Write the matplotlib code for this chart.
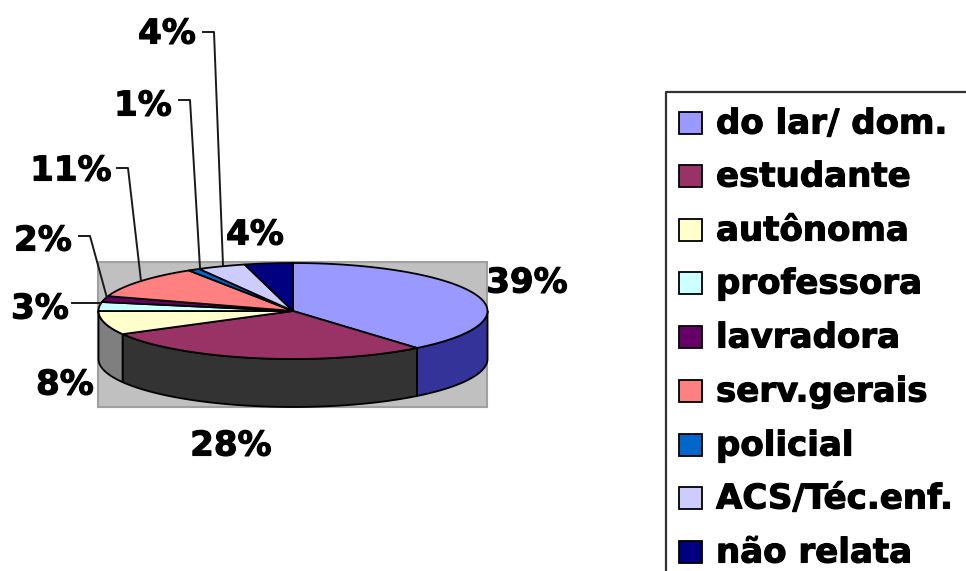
import numpy as np
import matplotlib
matplotlib.use('Agg')
import matplotlib.pyplot as plt
import matplotlib.patheffects as pe
from matplotlib.patches import Polygon, Rectangle

labels = ['do lar/ dom.', 'estudante', 'autônoma', 'professora', 'lavradora',
          'serv.gerais', 'policial', 'ACS/Téc.enf.', 'não relata']
values = [39, 28, 8, 3, 2, 11, 1, 4, 4]
colors = ['#9999FF', '#993366', '#FFFFCC', '#CCFFFF', '#660066',
          '#FF8080', '#0066CC', '#CCCCFF', '#000080']
side_colors = ['#333399', '#333333', '#7F7F7F', '#668080', '#330033',
               '#804040', '#003366', '#666680', '#000040']

# posicao dos rotulos em pixels (centro do texto)
pct_pos = [(527, 283), (231, 446), (65, 385), (40, 309), (43, 241),
           (71, 171), (143, 106), (167, 34), (255, 235)]
# linhas de chamada
leaders = [[(72, 303), (100, 303)],
           [(79, 236), (90, 236), (107, 298)],
           [(117, 168), (128, 168), (141, 281)],
           [(179, 100), (190, 100), (200, 268)],
           [(203, 32), (214, 32), (223, 265)]]

cx, cy, rx, ry, depth = 293, 311, 194.5, 48, 48

fig = plt.figure(figsize=(9.66, 5.71), dpi=100)
ax = fig.add_axes([0, 0, 1, 1])
ax.set_xlim(0, 966)
ax.set_ylim(571, 0)
ax.axis('off')

# fundo cinza
ax.add_patch(Rectangle((98, 262), 389, 145, facecolor='#C0C0C0',
                       edgecolor='#A0A0A0', linewidth=1.5))


def arc(t0, t1, dy=0):
    t = np.radians(np.linspace(t0, t1, 60))
    return np.column_stack([cx + rx * np.sin(t), cy + dy - ry * np.cos(t)])


edges = np.cumsum([0] + values) * 3.6

# faces laterais (so a parte da frente aparece)
for i in range(len(values)):
    t0, t1 = max(edges[i], 90), min(edges[i + 1], 270)
    if t1 <= t0:
        continue
    pts = np.vstack([arc(t0, t1), arc(t0, t1, depth)[::-1]])
    ax.add_patch(Polygon(pts, closed=True, facecolor=side_colors[i],
                         edgecolor='black', linewidth=1.3))

# topo da pizza
for i in range(len(values)):
    pts = np.vstack([[(cx, cy)], arc(edges[i], edges[i + 1])])
    ax.add_patch(Polygon(pts, closed=True, facecolor=colors[i],
                         edgecolor='black', linewidth=1.3))

for pts in leaders:
    xs, ys = zip(*pts)
    ax.plot(xs, ys, color='#1a1a1a', linewidth=1.4)

font = dict(family='DejaVu Sans', fontweight='bold', fontsize=24.5, color='black',
            path_effects=[pe.withStroke(linewidth=0.8, foreground='black')])
for v, (x, y) in zip(values, pct_pos):
    ax.text(x, y, f'{v}%', ha='center', va='center', **font)

# legenda (a caixa sai da imagem a direita e embaixo)
ax.plot([966, 666, 666], [92, 92, 571], color='#333333', linewidth=1.6)
leg_y = [123, 176, 230, 283, 337, 391, 445, 498, 552]
for lab, col, y in zip(labels, colors, leg_y):
    ax.add_patch(Rectangle((679, y - 11), 23, 22, facecolor=col,
                           edgecolor='black', linewidth=1.3))
    ax.text(716, y + 1, lab, ha='left', va='center', **font)

fig.savefig('out.png', dpi=100)
